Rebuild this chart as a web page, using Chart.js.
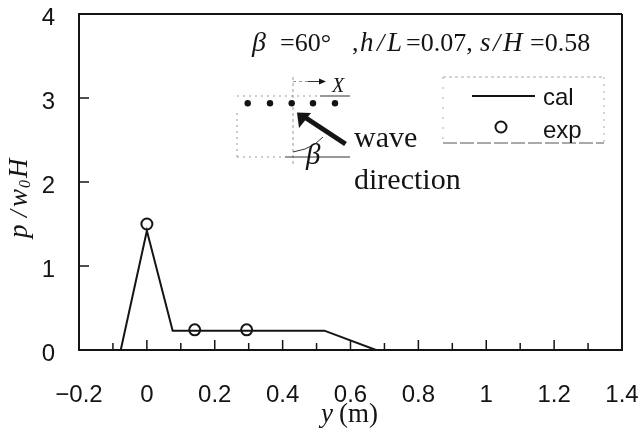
<!DOCTYPE html>
<html><head><meta charset="utf-8">
<style>html,body{margin:0;padding:0;background:#fff}#w{position:relative;width:641px;height:433px}canvas{display:block}</style>
<script src="https://cdn.jsdelivr.net/npm/chart.js@4"></script></head>
<body><div id="w"><canvas id="c" width="641" height="433"></canvas></div>
<script>
const calX = [-0.2, -0.077, 0, 0.076, 0.523, 0.675];
const calY = [0, 0, 1.42, 0.23, 0.23, 0];
const expX = [0, 0.141, 0.294];
const expY = [1.5, 0.24, 0.24];
const xTicks = [-0.2,0,0.2,0.4,0.6,0.8,1,1.2,1.4];
const yTicks = [0,1,2,3,4];
const xTickLabels = ['\u22120.2','0','0.2','0.4','0.6','0.8','1','1.2','1.4'];
const INK = '#141414';
const serif = '"Liberation Serif","DejaVu Serif",serif';
const sans = '"Liberation Sans",Arial,sans-serif';

function T(ctx,s,x,y,font,align){ctx.font=font;ctx.textAlign=align||'left';ctx.textBaseline='alphabetic';ctx.fillText(s,x,y);}
function L(ctx,pts,w,dash){ctx.beginPath();ctx.lineWidth=w;ctx.setLineDash(dash||[]);pts.forEach((p,i)=>i?ctx.lineTo(p[0],p[1]):ctx.moveTo(p[0],p[1]));ctx.stroke();ctx.setLineDash([]);}

const overlay = {
  id:'overlay',
  afterDraw(chart){
    const ctx=chart.ctx, xs=chart.scales.x, ys=chart.scales.y, a=chart.chartArea;
    ctx.save();ctx.fillStyle=INK;ctx.strokeStyle=INK;
    for(let i=-1;i<=13;i++){const px=xs.getPixelForValue(i/10);L(ctx,[[px,a.bottom],[px,a.bottom-(i%2===0?10:7)]],1.5);}
    yTicks.slice(1,4).forEach(v=>{const py=ys.getPixelForValue(v);L(ctx,[[a.left,py],[a.left+10,py]],1.5);});
    // axis titles
    T(ctx,'y',321,422,'italic 27px '+serif);
    T(ctx,'(m)',339,422,'27px '+serif);
    ctx.save();ctx.translate(27,238);ctx.rotate(-Math.PI/2);
    T(ctx,'p',0,0,'italic 27px '+serif);T(ctx,'/',21,0,'italic 25px '+serif);
    T(ctx,'w',31,0,'italic 27px '+serif);T(ctx,'0',50,3,'italic 16px '+serif);T(ctx,'H',60,0,'italic 27px '+serif);
    ctx.restore();
    // condition line
    T(ctx,'\u03B2',252,51,'italic 28px '+serif);
    T(ctx,'=60\u00B0',280,51,'26px '+serif);
    T(ctx,',',352,51,'26px '+serif);
    T(ctx,'h',360,51,'italic 27px '+serif);T(ctx,'/',377,51,'italic 26px '+serif);T(ctx,'L',387,51,'italic 27px '+serif);
    T(ctx,'=0.07,',406,51,'26px '+serif);
    T(ctx,'s',480,51,'italic 27px '+serif);T(ctx,'/',493,51,'italic 26px '+serif);T(ctx,'H',503,51,'italic 27px '+serif);
    T(ctx,'=0.58',530,51,'26px '+serif);
    // inset diagram
    ctx.strokeStyle='#999';
    L(ctx,[[237,96],[318,96]],1,[2,4]);L(ctx,[[237,157],[284,157]],1,[2,4]);
    L(ctx,[[237,113],[237,157]],1,[2,4]);L(ctx,[[293,77],[293,167]],1,[3,3]);
    L(ctx,[[293,81.5],[308,81.5]],1,[3,3]);
    ctx.strokeStyle='#333';L(ctx,[[285,157],[350,157]],1);L(ctx,[[320,96],[350,96]],1);
    L(ctx,[[293,152],[305,149],[315,144],[323,137]],1);
    L(ctx,[[308,81.5],[322,81.5]],1);
    ctx.beginPath();ctx.moveTo(326,81.5);ctx.lineTo(319,78.5);ctx.lineTo(319,84.5);ctx.fill();
    [247.7,270,291.7,313,335].forEach(x=>{ctx.beginPath();ctx.arc(x,103.3,3.2,0,7);ctx.fill();});
    ctx.strokeStyle=INK;
    L(ctx,[[345.5,144],[306,118]],5);
    ctx.beginPath();ctx.moveTo(297,112.5);ctx.lineTo(311,113);ctx.lineTo(299,128);ctx.fill();
    T(ctx,'X',332,92,'italic 20px '+serif);
    T(ctx,'\u03B2',306,164,'italic 29px '+serif);
    T(ctx,'wave',354,147,'30px '+serif);
    T(ctx,'direction',354,189,'30px '+serif);
    // legend
    ctx.strokeStyle='#aaa';
    L(ctx,[[443,77],[604,77]],1,[3,3]);L(ctx,[[604,77],[604,143]],1,[2,5]);L(ctx,[[443,77],[443,143]],1,[2,8]);
    ctx.strokeStyle='#555';L(ctx,[[443,143],[604,143]],1,[14,3]);
    ctx.strokeStyle=INK;L(ctx,[[472,96],[535,96]],2);
    ctx.beginPath();ctx.lineWidth=2;ctx.arc(501,127,5.5,0,7);ctx.stroke();
    T(ctx,'cal',543,105,'24px '+sans);T(ctx,'exp',543,138,'24px '+sans);
    // frame top and right
    ctx.strokeStyle=INK;L(ctx,[[a.left,a.top],[a.right,a.top]],2);L(ctx,[[a.right,a.top],[a.right,a.bottom]],2);
    ctx.restore();
  }
};

new Chart(document.getElementById('c'),{
  type:'scatter',
  data:{datasets:[
    {label:'cal',data:calX.map((x,i)=>({x,y:calY[i]})),showLine:true,borderColor:INK,borderWidth:2,pointRadius:0,tension:0},
    {label:'exp',data:expX.map((x,i)=>({x,y:expY[i]})),showLine:false,pointRadius:5.5,pointBorderWidth:2,pointBorderColor:INK,pointBackgroundColor:'rgba(0,0,0,0)'}
  ]},
  options:{
    responsive:false,animation:false,
    layout:{padding:{left:0,right:19,top:14,bottom:0}},
    plugins:{legend:{display:false},tooltip:{enabled:false}},
    scales:{
      x:{type:'linear',min:-0.2,max:1.4,afterBuildTicks(s){s.ticks=xTicks.map(value=>({value}));},
        afterFit(s){s.height=83;s.paddingLeft=0;s.paddingRight=0;},
        grid:{display:false,drawTicks:false},border:{display:true,color:INK,width:2},
        ticks:{color:INK,font:{family:sans,size:24},padding:31,maxRotation:0,autoSkip:false,callback:(v)=>xTickLabels[xTicks.findIndex(t=>Math.abs(t-v)<1e-6)]}},
      y:{type:'linear',min:0,max:4,afterBuildTicks(s){s.ticks=yTicks.map(value=>({value}));},
        afterFit(s){s.width=79;s.paddingTop=0;s.paddingBottom=0;},
        grid:{display:false,drawTicks:false},border:{display:true,color:INK,width:2},
        ticks:{color:INK,font:{family:sans,size:24},padding:24,labelOffset:4,autoSkip:false}}
    }
  },
  plugins:[overlay]
});
</script></body></html>
